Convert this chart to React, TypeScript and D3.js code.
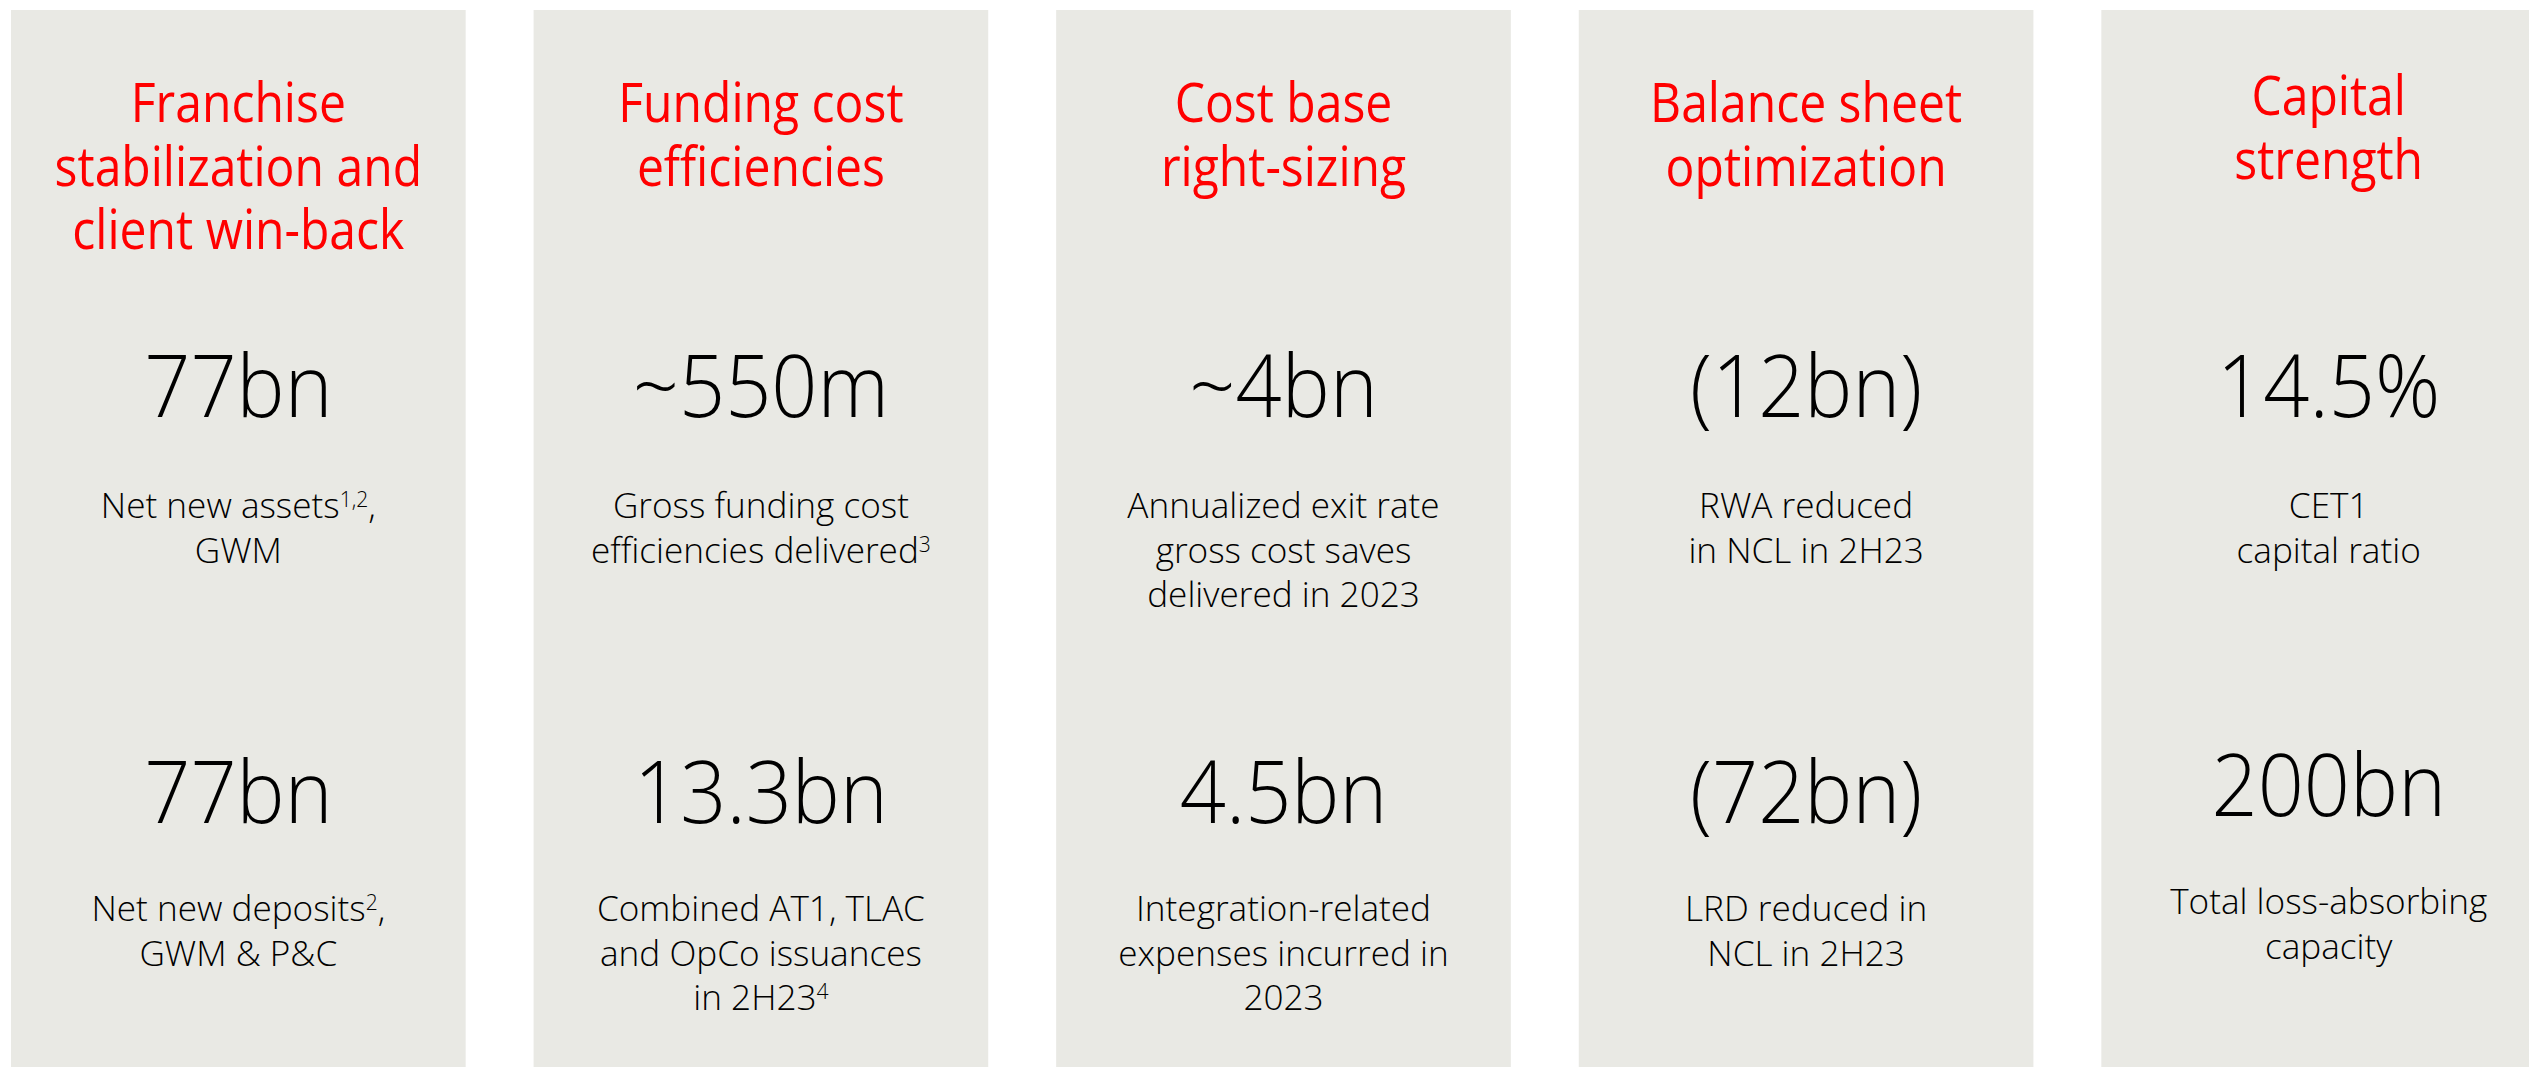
import React from "react";
import * as d3 from "d3";

// ---- data ----
const pillars = [
  "Franchise stabilization and client win-back",
  "Funding cost efficiencies",
  "Cost base right-sizing",
  "Balance sheet optimization",
  "Capital strength",
];
const titleLines: string[][] = [
  ["Franchise", "stabilization and", "client win-back"],
  ["Funding cost", "efficiencies"],
  ["Cost base", "right-sizing"],
  ["Balance sheet", "optimization"],
  ["Capital", "strength"],
];
const topValues = ["77bn", "~550m", "~4bn", "(12bn)", "14.5%"];
const topLabels: string[][] = [
  ["Net new assets^{1,2},", "GWM"],
  ["Gross funding cost", "efficiencies delivered^{3}"],
  ["Annualized exit rate", "gross cost saves", "delivered in 2023"],
  ["RWA reduced", "in NCL in 2H23"],
  ["CET1", "capital ratio"],
];
const bottomValues = ["77bn", "13.3bn", "4.5bn", "(72bn)", "200bn"];
const bottomLabels: string[][] = [
  ["Net new deposits^{2},", "GWM & P&C"],
  ["Combined AT1, TLAC", "and OpCo issuances", "in 2H23^{4}"],
  ["Integration-related", "expenses incurred in", "2023"],
  ["LRD reduced in", "NCL in 2H23"],
  ["Total loss-absorbing", "capacity"],
];

// ---- layout / style ----
const W = 2529;
const H = 1067;
const PANEL_FILL = "#E9E9E4";
const RED = "#FF0000";
const FONT = "'Open Sans', 'Noto Sans', sans-serif";

function parseLine(line: string) {
  const parts: { t: string; sup: boolean }[] = [];
  const re = /\^\{([^}]*)\}/g;
  let last = 0;
  let m: RegExpExecArray | null;
  while ((m = re.exec(line))) {
    if (m.index > last) parts.push({ t: line.slice(last, m.index), sup: false });
    parts.push({ t: m[1], sup: true });
    last = m.index + m[0].length;
  }
  if (last < line.length) parts.push({ t: line.slice(last), sup: false });
  return parts;
}

function Label({ cx, y, line, size, color, weight, sx }: any) {
  const parts = parseLine(line);
  const supSize = size * 0.6;
  const shift = size * 0.3;
  let raised = false;
  return (
    <text
      transform={`translate(${cx},${y}) scale(${sx},1)`}
      textAnchor="middle"
      fontFamily={FONT}
      fontSize={size}
      fontWeight={weight}
      fill={color}
    >
      {parts.map((p, i) => {
        let dy = 0;
        if (p.sup && !raised) {
          dy = -shift;
          raised = true;
        } else if (!p.sup && raised) {
          dy = shift;
          raised = false;
        }
        return (
          <tspan key={i} dy={dy} fontSize={p.sup ? supSize : size}>
            {p.t}
          </tspan>
        );
      })}
    </text>
  );
}

export default function App() {
  const x = d3
    .scaleBand<string>()
    .domain(pillars)
    .range([11, 2556])
    .paddingInner(0.13)
    .paddingOuter(0);
  const bw = x.bandwidth();

  const titleY = 122;
  const titleLH = 63.5;
  const valueY1 = 417;
  const labelY1 = 518;
  const valueY2 = 823;
  const labelY2 = 921;
  const labelLH = 44.5;

  return (
    <svg
      width={W}
      height={H}
      style={{ position: "absolute", left: 0, top: 0, display: "block", background: "#fff" }}
    >
      {pillars.map((p, i) => {
        const left = x(p)!;
        const last = i === pillars.length - 1;
        const cx = left + bw / 2;
        const dyTop = last ? -7 : 0;
        const dyBot = last ? -7 : 0;
        return (
          <g key={p}>
            <rect x={left} y={10} width={bw} height={H - 10} fill={PANEL_FILL} />
            {titleLines[i].map((l, j) => (
              <Label key={"t" + j} cx={cx} y={titleY + dyTop + j * titleLH} line={l} size={54} color={RED} weight={400} sx={0.89} />
            ))}
            <Label cx={cx} y={valueY1} line={topValues[i]} size={87} color="#000" weight={300} sx={0.93} />
            {topLabels[i].map((l, j) => (
              <Label key={"a" + j} cx={cx} y={labelY1 + j * labelLH} line={l} size={35.5} color="#000" weight={300} sx={0.99} />
            ))}
            <Label cx={cx} y={valueY2 + dyBot} line={bottomValues[i]} size={87} color="#000" weight={300} sx={0.93} />
            {bottomLabels[i].map((l, j) => (
              <Label key={"b" + j} cx={cx} y={labelY2 + dyBot + j * labelLH} line={l} size={35.5} color="#000" weight={300} sx={0.99} />
            ))}
          </g>
        );
      })}
    </svg>
  );
}
